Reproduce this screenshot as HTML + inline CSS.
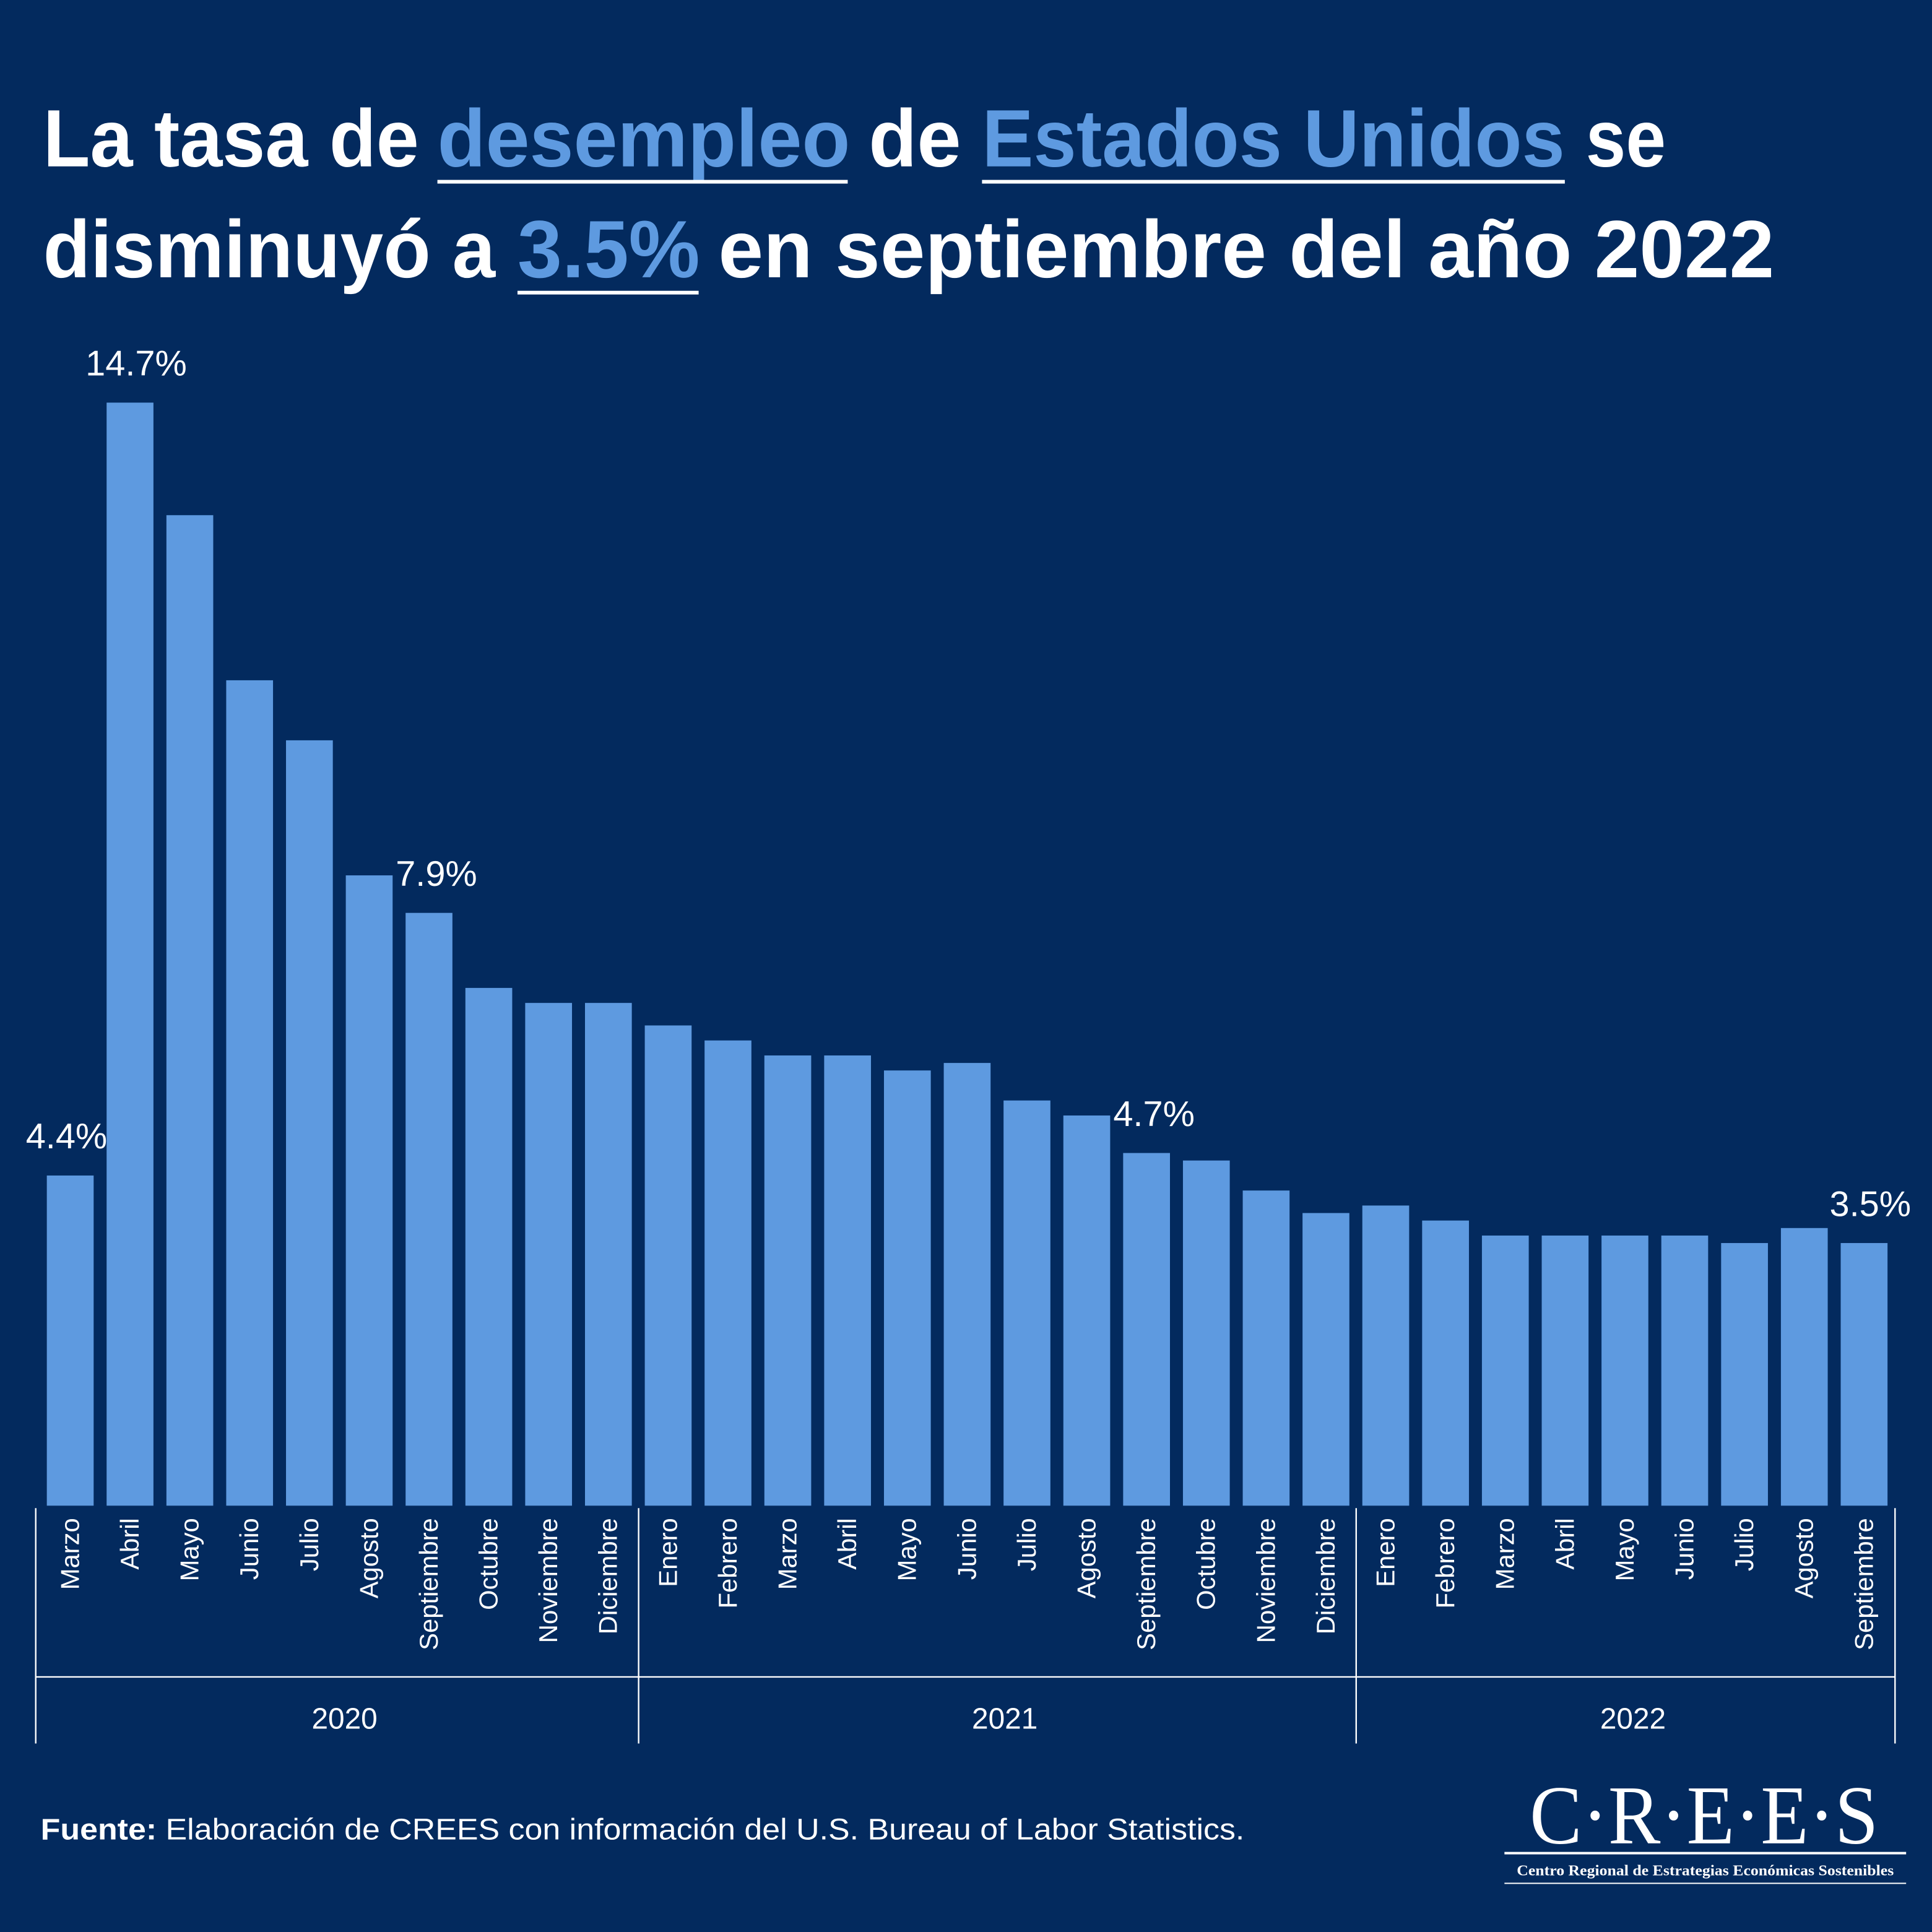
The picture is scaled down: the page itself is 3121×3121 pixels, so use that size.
<!DOCTYPE html>
<html><head><meta charset="utf-8"><style>
html,body{margin:0;padding:0;background:#032a5e;}
svg{display:block;}
text{font-family:"Liberation Sans",sans-serif;}
text.serif{font-family:"Liberation Serif",serif;}
</style></head><body>
<svg id="chart" width="3121" height="3121" viewBox="0 0 1568 1568" xmlns="http://www.w3.org/2000/svg">
<rect x="0" y="0" width="1568" height="1568" fill="#032a5e"/>
<g font-weight="bold" font-size="66" fill="#ffffff">
<text x="35" y="135" textLength="305" lengthAdjust="spacingAndGlyphs">La tasa de</text>
<text x="355" y="135" textLength="335" lengthAdjust="spacingAndGlyphs" fill="#5e9ae0">desempleo</text>
<text x="705" y="135" textLength="75" lengthAdjust="spacingAndGlyphs">de</text>
<text x="797" y="135" textLength="473" lengthAdjust="spacingAndGlyphs" fill="#5e9ae0">Estados Unidos</text>
<text x="1287" y="135" textLength="65" lengthAdjust="spacingAndGlyphs">se</text>
<text x="35" y="225" textLength="367" lengthAdjust="spacingAndGlyphs">disminuyó a</text>
<text x="420" y="225" textLength="148" lengthAdjust="spacingAndGlyphs" fill="#5e9ae0">3.5%</text>
<text x="583" y="225" textLength="857" lengthAdjust="spacingAndGlyphs">en septiembre del año 2022</text>
<rect x="355" y="146" width="333" height="3" fill="#ffffff"/>
<rect x="797" y="146" width="473" height="3" fill="#ffffff"/>
<rect x="420" y="236" width="147" height="3" fill="#ffffff"/>
</g>
<g id="bars"></g>
<g id="axis" stroke="#ffffff" stroke-width="1.2">
<line x1="29" y1="1361" x2="1538" y2="1361"/>
</g>
<g id="labels"></g>
<text x="33" y="1493" font-size="24" fill="#ffffff" textLength="977" lengthAdjust="spacingAndGlyphs"><tspan font-weight="bold">Fuente:</tspan> Elaboración de CREES con información del U.S. Bureau of Labor Statistics.</text>
<g fill="#ffffff">
<text class="serif" x="1383" y="1496" font-size="68" text-anchor="middle" textLength="283" lengthAdjust="spacingAndGlyphs">C·R·E·E·S</text>
<rect x="1221" y="1503" width="326" height="2"/>
<text class="serif" x="1384" y="1522" font-weight="bold" font-size="12" text-anchor="middle" textLength="306" lengthAdjust="spacingAndGlyphs">Centro Regional de Estrategias Económicas Sostenibles</text>
<rect x="1221" y="1528" width="326" height="1"/>
</g>
</svg>
<script>
const months = ["Marzo","Abril","Mayo","Junio","Julio","Agosto","Septiembre","Octubre","Noviembre","Diciembre","Enero","Febrero","Marzo","Abril","Mayo","Junio","Julio","Agosto","Septiembre","Octubre","Noviembre","Diciembre","Enero","Febrero","Marzo","Abril","Mayo","Junio","Julio","Agosto","Septiembre"];
const rates = [4.4,14.7,13.2,11.0,10.2,8.4,7.9,6.9,6.7,6.7,6.4,6.2,6.0,6.0,5.8,5.9,5.4,5.2,4.7,4.6,4.2,3.9,4.0,3.8,3.6,3.6,3.6,3.6,3.5,3.7,3.5];
const years = ["2020","2021","2022"];
const yearCounts = [10,12,9];
const annotated = [0,1,6,18,30];

const NS="http://www.w3.org/2000/svg";
const x0=38, pitch=48.53, bw=38, base=1222, unit=60.9;
const xPos=i=>x0+i*pitch;
const yPos=v=>base-v*unit;
const bars=document.getElementById('bars'), labels=document.getElementById('labels'), axis=document.getElementById('axis');
function mk(t,a,p){const e=document.createElementNS(NS,t);for(const k in a)e.setAttribute(k,a[k]);p.appendChild(e);return e;}
rates.forEach((v,i)=>{
  const r=mk('rect',{x:xPos(i),y:yPos(v),width:bw,height:base-yPos(v),fill:'#5e9ae0'},bars);
  
  
  const cx=xPos(i)+bw/2+7;
  const t=mk('text',{x:0,y:0,'font-size':21,fill:'#ffffff','text-anchor':'end',transform:`translate(${cx},1232) rotate(-90)`},labels);
  t.textContent=months[i];
  
  
  if(annotated.includes(i)){
    const dx = i==0 ? -3 : (i==1||i==30 ? 5 : 6);
    const a=mk('text',{x:xPos(i)+bw/2+dx,y:yPos(v)-22,'font-size':29,fill:'#ffffff','text-anchor':'middle'},labels);
    a.textContent=v.toFixed(1)+'%';
    
    
  }
});
let start=0;
const bounds=[29];
yearCounts.forEach((c,j)=>{
  const end=start+c;
  const right = j==yearCounts.length-1 ? 1538 : xPos(end)-5;
  bounds.push(right);
  const yt=mk('text',{x:(bounds[j]+right)/2+6,y:1403,'font-size':24,fill:'#ffffff','text-anchor':'middle'},labels);
  yt.textContent=years[j];
  
  
  start=end;
});
bounds.forEach(b=>{
  const l=mk('line',{x1:b,y1:1224,x2:b,y2:1415},axis);
  
  
});
</script>
</body></html>
